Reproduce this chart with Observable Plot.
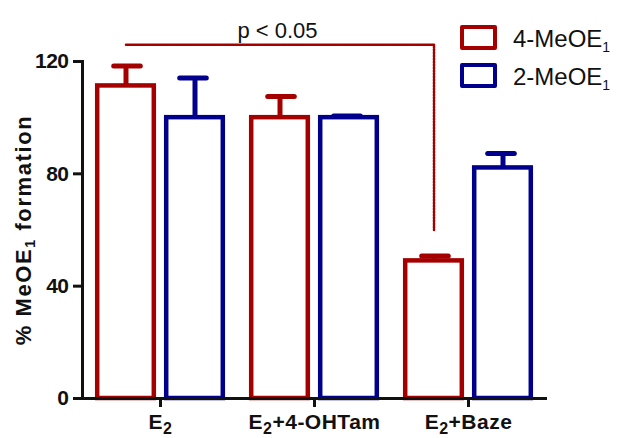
<!DOCTYPE html>
<html>
<head>
<meta charset="utf-8">
<script src="https://cdn.jsdelivr.net/npm/d3@7"></script>
<script src="https://cdn.jsdelivr.net/npm/@observablehq/plot@0.6"></script>
<style>
  body { margin: 0; background: #fff; }
  #wrap { position: relative; width: 618px; height: 438px; font-family: "Liberation Sans", Arial, sans-serif; }
  .box { position: absolute; left: 460px; width: 37px; height: 25px; box-sizing: border-box; border: 4px solid; border-radius: 2px; background: #fff; }
  .lab { position: absolute; left: 513px; font-size: 24px; line-height: 24px; color: #111; white-space: nowrap; }
  .lab sub { font-size: 14px; vertical-align: -5px; line-height: 0; }
</style>
</head>
<body>
<div id="wrap"></div>
<script>
// ---- data ----
const groups = ["E2", "E2+4-OHTam", "E2+Baze"];
const seriesNames = ["4-MeOE1", "2-MeOE1"];
const mean4 = [111.3, 100.0, 49.0];
const err4  = [7.1, 7.5, 1.7];
const mean2 = [100.0, 100.0, 82.1];
const err2  = [14.1, 0.6, 5.1];
const yTicks = [0, 40, 80, 120];
const sigLabel = "p < 0.05";
const sigLevel = 126;
const sigDrop = 60;
const yLabel = "% MeOE1 formation";

const red = "#a50000";
const blue = "#00008c";

const rows4 = groups.map((g, i) => ({group: g, mean: mean4[i], err: err4[i]}));
const rows2 = groups.map((g, i) => ({group: g, mean: mean2[i], err: err2[i]}));
const sigPath = [
  {group: groups[0], value: sigLevel},
  {group: groups[2], value: sigLevel},
  {group: groups[2], value: sigDrop}
];

const font = '"Liberation Sans", Arial, sans-serif';

const chart = Plot.plot({
  width: 618,
  height: 438,
  marginLeft: 82,
  marginRight: 73,
  marginTop: 61,
  marginBottom: 40,
  style: {fontFamily: font, fontSize: "20px", fontWeight: "bold", background: "white", overflow: "visible", color: "#111"},
  x: {domain: groups, padding: 0},
  y: {domain: [0, 120]},
  marks: [
    Plot.barY(rows4, {x: "group", y: "mean", fill: "white", stroke: red, strokeWidth: 4.5, insetLeft: 14.2, insetRight: 83.2}),
    Plot.barY(rows2, {x: "group", y: "mean", fill: "white", stroke: blue, strokeWidth: 4.5, insetLeft: 83.2, insetRight: 14.2}),
    Plot.ruleX(rows4, {x: "group", y1: "mean", y2: d => d.mean + d.err, dx: -34.5, stroke: red, strokeWidth: 5}),
    Plot.tickY(rows4, {x: "group", y: d => d.mean + d.err, insetLeft: 30.7, insetRight: 96.7, stroke: red, strokeWidth: 5, strokeLinecap: "round"}),
    Plot.ruleX(rows2, {x: "group", y1: "mean", y2: d => d.mean + d.err, dx: 34.5, stroke: blue, strokeWidth: 5}),
    Plot.tickY(rows2, {x: "group", y: d => d.mean + d.err, insetLeft: 96.7, insetRight: 30.7, stroke: blue, strokeWidth: 5, strokeLinecap: "round"}),
    Plot.line(sigPath, {x: "group", y: "value", dx: -34.5, stroke: red, strokeWidth: 2.5, strokeDasharray: "2,1", curve: "linear"}),
    Plot.text([sigLabel], {x: () => groups[1], y: () => 131, dx: -37, text: d => d, fontSize: 22, fontWeight: "normal", textAnchor: "middle", lineAnchor: "middle", fill: "#111"}),
    Plot.axisX({tickSize: 9, tickPadding: 7, strokeWidth: 3, label: null, fontSize: 21, fontWeight: "bold"}),
    Plot.axisY({ticks: yTicks, tickSize: 9, tickPadding: 5, strokeWidth: 3, fontSize: 21, fontWeight: "bold",
      label: yLabel, labelAnchor: "center", labelOffset: 67, labelArrow: false}),
    Plot.frame({anchor: "left", stroke: "#111", strokeWidth: 3}),
    Plot.frame({anchor: "bottom", stroke: "#111", strokeWidth: 3, strokeDasharray: "2,1"})
  ]
});

// subscripts for "E1"/"E2" in axis texts
function subscript(el, size, shift) {
  const s = el.textContent;
  const re = /E([12])/g;
  let last = 0, m;
  const pieces = [];
  while ((m = re.exec(s))) {
    pieces.push({t: s.slice(last, m.index + 1), sub: false});
    pieces.push({t: m[1], sub: true});
    last = m.index + 2;
  }
  pieces.push({t: s.slice(last), sub: false});
  while (el.firstChild) el.removeChild(el.firstChild);
  let shifted = false;
  for (const p of pieces) {
    if (!p.t) continue;
    const ts = d3.select(el).append("tspan").text(p.t);
    if (p.sub) { ts.attr("font-size", size).attr("dy", shift); shifted = true; }
    else if (shifted) { ts.attr("dy", -shift); shifted = false; }
  }
}
const svg = d3.select(chart);
svg.selectAll('[aria-label="y-axis tick label"] text').attr("font-size", 21).attr("letter-spacing", "-0.5px");
svg.selectAll('[aria-label="x-axis tick label"] text').each(function() {
  d3.select(this).attr("font-size", 21).attr("letter-spacing", "0.5px");
  subscript(this, 16, 5);
});
svg.selectAll('[aria-label="y-axis label"] text').each(function() {
  d3.select(this).attr("letter-spacing", "1.6px").attr("font-size", 22);
  subscript(this, 14, 4);
});

const wrap = document.getElementById("wrap");
wrap.appendChild(chart);

// legend
const legendColors = [red, blue];
const legendTops = [25, 63];
const labelTops = [26.7, 64.7];
seriesNames.forEach((name, i) => {
  const box = document.createElement("div");
  box.className = "box";
  box.style.top = legendTops[i] + "px";
  box.style.borderColor = legendColors[i];
  wrap.appendChild(box);
  const lab = document.createElement("div");
  lab.className = "lab";
  lab.style.top = labelTops[i] + "px";
  lab.innerHTML = name.replace(/E1$/, "E<sub>1</sub>");
  wrap.appendChild(lab);
});
</script>
</body>
</html>
